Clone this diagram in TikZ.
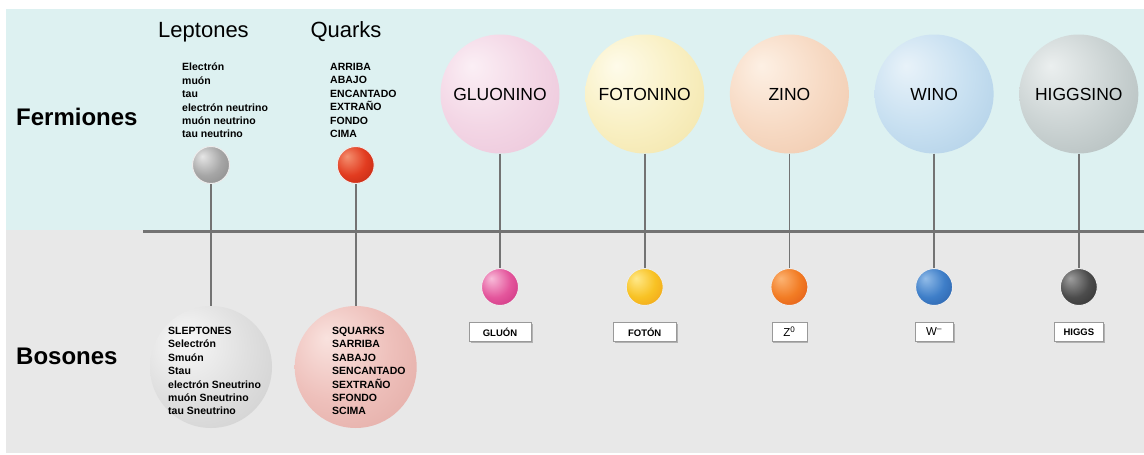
\documentclass[tikz,border=0pt]{standalone}
\usepackage{fontspec}
\setmainfont{Liberation Sans}
\usetikzlibrary{positioning,shadows}
\definecolor{bgcyan}{HTML}{DDF1F1}
\definecolor{bggray}{HTML}{E8E8E8}
\definecolor{stickgray}{HTML}{737373}
\colorlet{orbhi}{white}
\colorlet{orbmid}{gray}
\colorlet{orbrim}{black}
\pgfdeclareradialshading[orbhi,orbmid,orbrim]{orb}{\pgfqpoint{-12bp}{12bp}}{%
  color(0bp)=(orbhi); color(22bp)=(orbmid); color(52bp)=(orbrim); color(64bp)=(orbrim)}
\tikzset{
  orb/.code n args={3}{\definecolor{orbhi}{HTML}{#1}\definecolor{orbmid}{HTML}{#2}%
    \definecolor{orbrim}{HTML}{#3}\tikzset{shading=orb}},
  bigball/.style={circle, minimum size=119pt, inner sep=0pt,
    font=\fontsize{17.5}{19}\selectfont},
  listball/.style={circle, minimum size=122pt, inner sep=0pt},
  smallball/.style={circle, minimum size=37pt, inner sep=0pt,
    draw=white!85!gray, line width=1pt},
  namelist/.style={align=left, inner sep=0pt, anchor=west,
    font=\bfseries\fontsize{10.5}{13.4}\selectfont},
  tag/.style={draw=gray!80, fill=white, inner sep=0pt, minimum height=19pt,
    minimum width=#1, font=\bfseries\fontsize{9.5}{11}\selectfont,
    drop shadow={shadow xshift=1.5pt, shadow yshift=-1.5pt, fill=gray!60, opacity=1}},
  stick/.style={draw=stickgray, line width=1.8pt},
  divider/.style={draw=gray!90!black, line width=3pt},
  rowlabel/.style={anchor=west, inner sep=0pt, font=\bfseries\fontsize{24}{26}\selectfont},
  coltitle/.style={inner sep=0pt, font=\fontsize{22}{24}\selectfont}
}
\begin{document}
\begin{tikzpicture}[x=1pt, y=-1pt, node distance=144.7pt, on grid]
  \useasboundingbox (0,0) rectangle (1144,455);
  \fill[white] (0,0) rectangle (1144,455);
  \fill[bgcyan] (6,9) rectangle (1144,230);
  \fill[bggray] (6,230) rectangle (1144,453);
  \coordinate(divl) at (143,231);
  \coordinate(divr) at (1144,231);
  \draw[divider] (divl) -- (divr);

  \node(fermiones)[rowlabel] at (16,117) {Fermiones};
  \node(bosones)[rowlabel] at (16,356) {Bosones};

  \node(leptones)[coltitle] at (203.5,32) {Leptones};
  \node(quarks)[coltitle] at (346,32) {Quarks};
  \node(leptonlist)[namelist] at (182,100.5) {Electrón\\muón\\tau\\electrón neutrino\\muón neutrino\\tau neutrino};
  \node(quarklist)[namelist] at (330,100.5) {ARRIBA\\ABAJO\\ENCANTADO\\EXTRAÑO\\FONDO\\CIMA};

  \node(lepton)[smallball, orb={E6E6E6}{A6A6A6}{767676}] at (211,165) {};
  \node(quark)[smallball, orb={F49070}{E23C20}{A81808}, right=of lepton] {};
  \node(slepton)[listball, orb={F8F8F8}{E0E0E0}{C4C4C4}, below=202pt of lepton] {};
  \node(squark)[listball, orb={F9E2DE}{EEC0BB}{DC9E98}, below=202pt of quark] {};
  \node(sleptonlist)[namelist] at (168,371) {SLEPTONES\\Selectrón\\Smuón\\Stau\\electrón Sneutrino\\muón Sneutrino\\tau Sneutrino};
  \node(squarklist)[namelist] at (332,371) {SQUARKS\\SARRIBA\\SABAJO\\SENCANTADO\\SEXTRAÑO\\SFONDO\\SCIMA};

  \node(gluonino)[bigball, orb={FBEFF5}{F3D6E5}{E7BCD3}] at (500,94) {GLUONINO};
  \node(fotonino)[bigball, orb={FEFBEA}{F9F0C4}{EEDD98}, right=of gluonino] {FOTONINO};
  \node(zino)[bigball, orb={FDF0E4}{F7DAC4}{EBBE9E}, right=of fotonino] {ZINO};
  \node(wino)[bigball, orb={E8F2F9}{C8E0F1}{A0C4E0}, right=of zino] {WINO};
  \node(higgsino)[bigball, orb={EBEFEF}{CBD3D3}{A2AEAE}, right=of wino] {HIGGSINO};

  \node(gluon)[smallball, orb={F8BCD9}{E4569C}{BC1A6E}, below=193pt of gluonino] {};
  \node(foton)[smallball, orb={FFE98A}{F8C224}{EC8A10}, below=193pt of fotonino] {};
  \node(zboson)[smallball, orb={FCB474}{F27C24}{D4400E}, below=193pt of zino] {};
  \node(wboson)[smallball, orb={92BCE8}{3E7EC8}{1E4C94}, below=193pt of wino] {};
  \node(higgs)[smallball, orb={9E9E9E}{4C4C4C}{1E1E1E}, below=193pt of higgsino] {};

  \node(gluontag)[tag=62pt, below=45pt of gluon] {GLUÓN};
  \node(fotontag)[tag=63pt, below=45pt of foton] {FOTÓN};
  \node(zbosontag)[tag=35pt, below=45pt of zboson, font=\fontsize{11.5}{12}\selectfont] {Z\textsuperscript{0}};
  \node(wbosontag)[tag=38pt, below=45pt of wboson, font=\fontsize{11.5}{12}\selectfont] {W\textsuperscript{--}};
  \node(higgstag)[tag=49pt, below=45pt of higgs] {HIGGS};

  \draw[stick] (lepton) -- (slepton);
  \draw[stick] (quark) -- (squark);
  \draw[stick] (gluonino) -- (gluon);
  \draw[stick] (fotonino) -- (foton);
  \draw[stick] (zino) -- (zboson);
  \draw[stick] (wino) -- (wboson);
  \draw[stick] (higgsino) -- (higgs);
\end{tikzpicture}
\end{document}
